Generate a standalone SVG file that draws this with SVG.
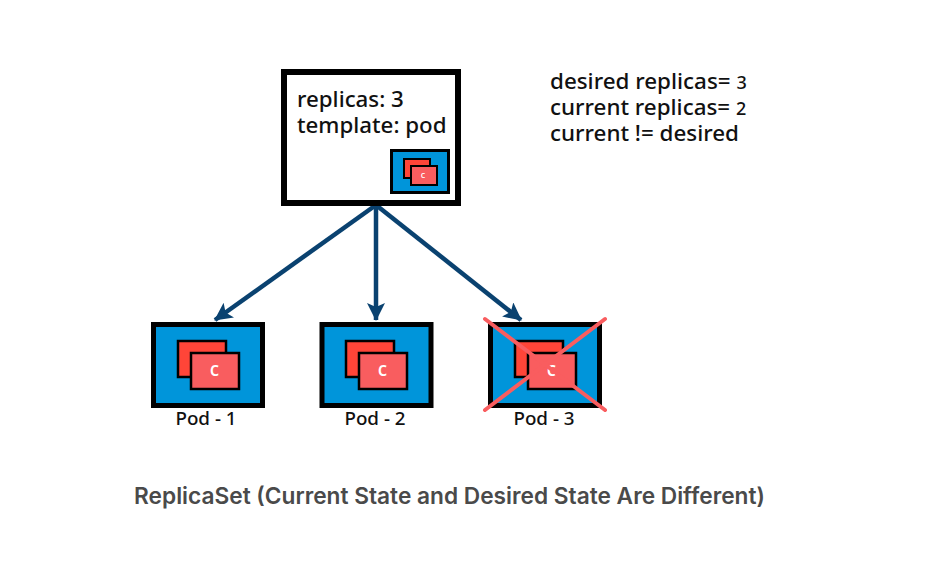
<svg xmlns="http://www.w3.org/2000/svg" width="936" height="563" viewBox="0 0 936 563">
<defs>
<style>
.t{font-family:"Noto Sans","Open Sans",sans-serif;fill:#111;font-weight:500}
.pod{fill:#0095da;stroke:#000;stroke-width:5}
.c0{fill:#ff4538;stroke:#000;stroke-width:2.5}
.c{fill:#f95d5f;stroke:#000;stroke-width:2.5}
.cl{font-family:"Noto Sans",sans-serif;fill:#fff;font-size:19px;font-weight:500;text-anchor:middle}
.l{font-family:"Noto Sans",sans-serif;fill:#111;font-size:18.8px;font-weight:500;text-anchor:middle}
.a{stroke:#0a4270;stroke-width:4.5;fill:none;marker-end:url(#ah)}
.x{stroke:#f95d5f;stroke-width:4;stroke-linecap:round}
</style>
<marker id="ah" markerUnits="userSpaceOnUse" markerWidth="20" markerHeight="20" refX="17" refY="9" orient="auto"><path d="M0,0L18,9L0,18L4,9Z" fill="#0a4270"/></marker>
</defs>
<rect width="936" height="563" fill="#fff"/>
<g id="connectors">
<path class="a" d="M376,205L215,320"/>
<path class="a" d="M376,205L376,320"/>
<path class="a" d="M376,205L521,320"/>
</g>
<g id="replicaset">
<rect x="284" y="72" width="174" height="131" fill="#fff" stroke="#000" stroke-width="6"/>
<text class="t" x="297" y="107" font-size="22.3">replicas: 3</text>
<text class="t" x="297" y="133" font-size="22.3">template: pod</text>
<rect x="391.500" y="150.500" width="57" height="42" class="pod" style="stroke-width:3"/>
<rect x="404" y="159" width="26" height="19" class="c0" style="stroke-width:2"/>
<rect x="411" y="166" width="26" height="19" class="c" style="stroke-width:2"/>
<text class="cl" x="423" y="178" style="font-size:9px">c</text>
</g>
<g id="status">
<text class="t" x="550" y="89" font-size="22.4">desired replicas= <tspan font-size="18">3</tspan></text>
<text class="t" x="550" y="115" font-size="22.4">current replicas= <tspan font-size="18">2</tspan></text>
<text class="t" x="550" y="141" font-size="22.4">current != desired</text>
</g>
<g id="pod1">
<rect x="153.500" y="324.500" width="109" height="81" class="pod"/>
<rect x="178" y="341" width="48" height="36" class="c0"/>
<rect x="191" y="353" width="48" height="36" class="c"/>
<text class="cl" x="214.500" y="376">c</text>
<text class="l" x="206" y="425">Pod - 1</text>
</g>
<g id="pod2">
<rect x="322" y="324.500" width="109" height="81" class="pod"/>
<rect x="346" y="341" width="48" height="36" class="c0"/>
<rect x="359" y="353" width="48" height="36" class="c"/>
<text class="cl" x="382.500" y="376">c</text>
<text class="l" x="375" y="425">Pod - 2</text>
</g>
<g id="pod3">
<rect x="490.500" y="324.500" width="109" height="81" class="pod"/>
<rect x="515" y="341" width="48" height="36" class="c0"/>
<rect x="528" y="353" width="48" height="36" class="c"/>
<text class="cl" x="551.500" y="376">c</text>
<text class="l" x="544" y="425">Pod - 3</text>
<path class="x" d="M485,319L605,410M605,319L485,410"/>
</g>
<text x="449.500" y="504" text-anchor="middle" font-family="Inter,sans-serif" font-size="22.7" font-weight="600" fill="#4a4a4a">ReplicaSet (Current State and Desired State Are Different)</text>
</svg>
